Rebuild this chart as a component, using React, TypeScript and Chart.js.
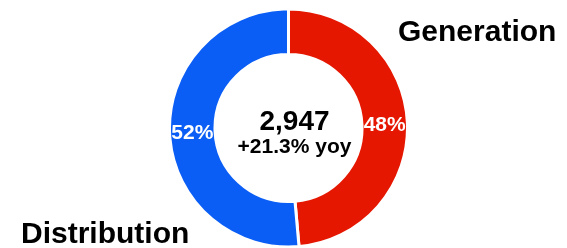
import React, { useEffect, useRef } from "react";
import { Chart, registerables } from "chart.js";

Chart.register(...registerables);

const categories = ["Generation", "Distribution"];
const values = [1432, 1515];
const pctLabels = ["48%", "52%"];
const totalLabel = "2,947";
const changeLabel = "+21.3% yoy";
const colors = ["#E61700", "#0A5EF5"];

const FONT = "'Liberation Sans', Arial, Helvetica, sans-serif";

const textPlugin = {
  id: "donutText",
  afterDatasetsDraw(chart: any) {
    const ctx = chart.ctx;
    const meta = chart.getDatasetMeta(0);
    ctx.save();
    // slice percentages
    ctx.fillStyle = "#ffffff";
    ctx.font = `bold 21px ${FONT}`;
    ctx.textAlign = "center";
    ctx.textBaseline = "middle";
    meta.data.forEach((arc: any, i: number) => {
      const p = arc.tooltipPosition();
      ctx.fillText(pctLabels[i], p.x, p.y + 1);
    });
    // center text
    const cx = (chart.chartArea.left + chart.chartArea.right) / 2 + 6;
    const cy = (chart.chartArea.top + chart.chartArea.bottom) / 2;
    ctx.fillStyle = "#000000";
    ctx.textBaseline = "alphabetic";
    ctx.font = `bold 28px ${FONT}`;
    ctx.fillText(totalLabel, cx, cy + 2);
    ctx.font = `bold 21px ${FONT}`;
    ctx.fillText(changeLabel, cx, cy + 25);
    // category labels
    ctx.font = `bold 30px ${FONT}`;
    ctx.textAlign = "left";
    ctx.fillText(categories[0], 398, 41);
    ctx.fillText(categories[1], 21, 243);
    ctx.restore();
  },
};

export default function App() {
  const ref = useRef<HTMLCanvasElement | null>(null);
  useEffect(() => {
    if (!ref.current) return;
    const chart = new Chart(ref.current, {
      type: "doughnut",
      data: {
        labels: categories,
        datasets: [
          {
            data: values,
            backgroundColor: colors,
            borderColor: "#ffffff",
            borderWidth: 3,
          },
        ],
      },
      options: {
        animation: false,
        responsive: false,
        maintainAspectRatio: false,
        radius: 119,
        cutout: "61.8%",
        layout: { padding: { left: 10, top: 8, right: 0, bottom: 0 } },
        plugins: {
          legend: { display: false },
          tooltip: { enabled: false },
        },
      },
      plugins: [textPlugin],
    });
    return () => chart.destroy();
  }, []);
  return (
    <div style={{ position: "fixed", left: 0, top: 0, width: 567, height: 248 }}>
      <canvas ref={ref} width={567} height={248} style={{ width: 567, height: 248, display: "block" }} />
    </div>
  );
}
